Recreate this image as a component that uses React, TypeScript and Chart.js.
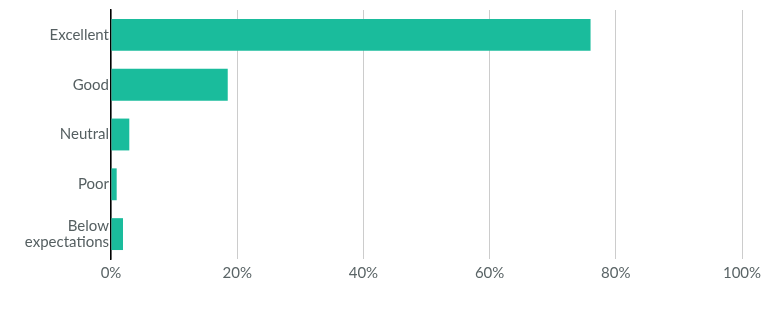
import React, { useEffect, useRef } from "react";
import { Chart, registerables } from "chart.js";

Chart.register(...registerables);

const categories: (string | string[])[] = ["Excellent", "Good", "Neutral", "Poor", ["Below", "expectations"]];
const values: number[] = [76, 18.5, 2.9, 0.9, 1.9];
const xTicks: number[] = [0, 20, 40, 60, 80, 100];

export default function App() {
  const ref = useRef<HTMLCanvasElement | null>(null);
  useEffect(() => {
    if (!ref.current) return;
    const chart = new Chart(ref.current, {
      type: "bar",
      data: {
        labels: categories,
        datasets: [
          {
            data: values,
            backgroundColor: "#1abc9c",
            borderWidth: 0,
            categoryPercentage: 1,
            barPercentage: 0.64,
          },
        ],
      },
      options: {
        indexAxis: "y",
        animation: false,
        responsive: false,
        maintainAspectRatio: false,
        layout: { padding: { top: 10, right: 32, bottom: 0, left: 0 } },
        plugins: { legend: { display: false }, tooltip: { enabled: false } },
        scales: {
          x: {
            min: 0,
            max: 100,
            afterBuildTicks: (axis: any) => {
              axis.ticks = xTicks.map((v) => ({ value: v }));
            },
            afterFit: (axis: any) => {
              axis.height = 53;
            },
            grid: { color: "#cccccc", lineWidth: 1, drawTicks: false },
            border: { display: false },
            ticks: {
              color: "#5a6466",
              font: { family: "Lato", size: 15 },
              padding: 5,
              callback: (v: any) => v + "%",
              maxRotation: 0,
            },
          },
          y: {
            afterFit: (axis: any) => {
              axis.width = 111;
              axis.paddingTop = 0;
              axis.paddingBottom = 0;
            },
            grid: { display: false, drawTicks: false },
            border: { display: true, color: "#000000", width: 1.5 },
            ticks: {
              color: "#555f61",
              font: { family: "Lato", size: 15, lineHeight: 1.12 },
              padding: 2,
            },
          },
        },
      },
    });
    return () => chart.destroy();
  }, []);
  return (
    <div style={{ position: "fixed", left: 0, top: 0, width: 774, height: 312, background: "#fff" }}>
      <canvas ref={ref} width={774} height={312} style={{ width: 774, height: 312 }} />
    </div>
  );
}
